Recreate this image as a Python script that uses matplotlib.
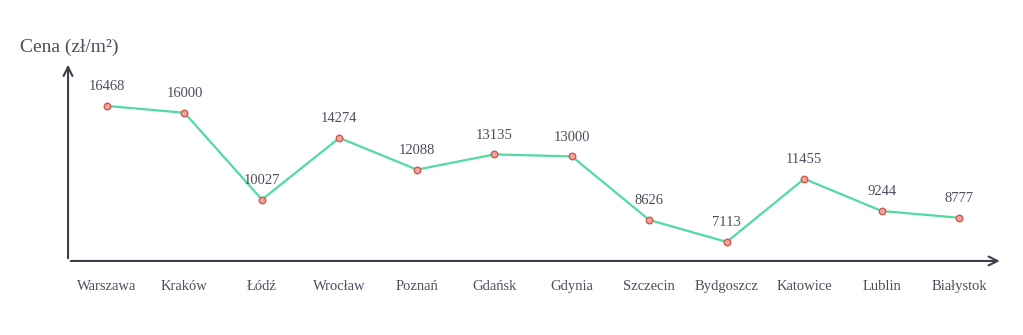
import matplotlib.pyplot as plt
import numpy as np

miasta = ['Warszawa', 'Kraków', 'Łódź', 'Wrocław', 'Poznań', 'Gdańsk',
          'Gdynia', 'Szczecin', 'Bydgoszcz', 'Katowice', 'Lublin', 'Białystok']
ceny = [16468, 16000, 10027, 14274, 12088, 13135, 13000, 8626, 7113, 11455, 9244, 8777]

plt.rcParams['font.family'] = ['Liberation Serif', 'DejaVu Serif']

fig = plt.figure(figsize=(10.23, 3.35), dpi=100)
ax = fig.add_axes([0.0665, 0.221, 0.9135, 0.594])

x = np.arange(len(miasta))
ax.plot(x, ceny, color='#52dba0', lw=1.6, zorder=2)
ax.scatter(x, ceny, s=22, facecolor='#f2a59c', edgecolor='#d0584f', lw=1.0, zorder=3)

for xi, c in zip(x, ceny):
    ax.annotate(str(c), (xi, c), xytext=(0, 9), textcoords='offset points',
                ha='center', va='bottom', fontsize=10.5, color='#4a4f5c')

ax.set_xlim(-0.503, 11.56)
ax.set_ylim(5806, 19494)

for s in ax.spines.values():
    s.set_visible(False)
ax.set_yticks([])
ax.set_xticks(x)
ax.set_xticklabels(miasta, fontsize=10.5, color='#4a4f5c')
ax.tick_params(axis='x', length=0, pad=14)

kolor_osi = '#3a3f4a'
ax.annotate('', xy=(0, 1), xytext=(0, 0), xycoords='axes fraction',
            arrowprops=dict(arrowstyle='->', color=kolor_osi, lw=1.5, mutation_scale=16))
ax.annotate('', xy=(1, 0), xytext=(0, 0), xycoords='axes fraction',
            arrowprops=dict(arrowstyle='->', color=kolor_osi, lw=1.5, mutation_scale=16))

fig.text(20 / 1023, 1 - 47 / 335, 'Cena (zł/m²)', fontsize=14, color='#4a4f5c',
         ha='left', va='center')

plt.savefig('out.png', dpi=100)
